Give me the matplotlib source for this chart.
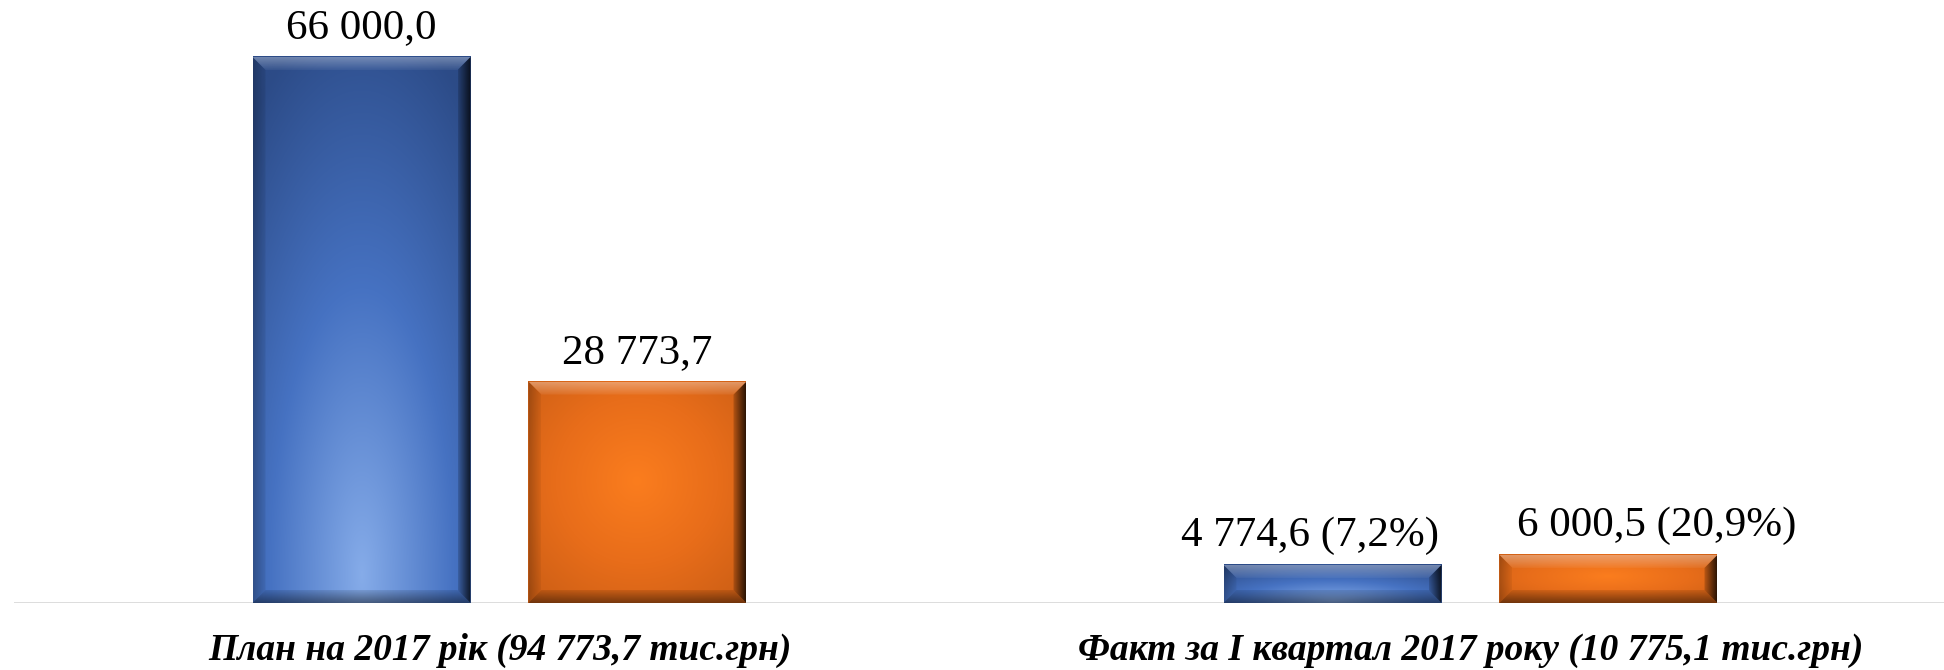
import numpy as np
import matplotlib.pyplot as plt
from matplotlib.colors import to_rgb
from matplotlib.patches import Polygon
from matplotlib.transforms import blended_transform_factory

categories = ["План на 2017 рік (94 773,7 тис.грн)",
              "Факт за I квартал 2017 року (10 775,1 тис.грн)"]
# bar heights as drawn in the picture
blue_vals = [66000.0, 4600.0]
orange_vals = [26760.0, 5810.0]
# data labels as printed
blue_labels = ["66 000,0", "4 774,6 (7,2%)"]
orange_labels = ["28 773,7", "6 000,5 (20,9%)"]

BLUE = ("#86ace9", "#4672c2", "#2c4b87")      # light centre, mid, dark edge
ORANGE = ("#fb7d1e", "#e86d1a", "#c95d15")


def fill_grad(ax, x0, x1, y0, y1, cols, cx, cy, rx, ry):
    u = np.linspace(0, 1, 120)
    v = np.linspace(0, 1, 240)
    U, V = np.meshgrid(u, v)
    r = np.clip(np.sqrt(((U - cx) / rx) ** 2 + ((V - cy) / ry) ** 2), 0, 1)
    c = [np.array(to_rgb(k)) for k in cols]
    img = np.empty(r.shape + (3,))
    for i in range(3):
        img[..., i] = np.interp(r, [0, 0.5, 1], [c[0][i], c[1][i], c[2][i]])
    ax.imshow(img, extent=(x0, x1, y0, y1), origin="lower", aspect="auto",
              interpolation="bilinear", zorder=2)


def side_grad(ax, poly, x0, x1, y0, y1, a0, a1, horizontal=True, color="black"):
    n = 64
    g = np.linspace(a0, a1, n)
    rgba = np.zeros((n, n, 4))
    rgba[..., :3] = to_rgb(color)
    rgba[..., 3] = g[None, :] if horizontal else g[:, None]
    im = ax.imshow(rgba, extent=(x0, x1, y0, y1), origin="lower", aspect="auto",
                   interpolation="bilinear", zorder=3)
    p = Polygon(poly, closed=True, facecolor="none", edgecolor="none",
                transform=ax.transData)
    ax.add_patch(p)
    im.set_clip_path(p)


def bevel_bar(ax, rect, colors, kind, sx, sy):
    x0, y0 = rect.get_x(), rect.get_y()
    x1, y1 = x0 + rect.get_width(), y0 + rect.get_height()
    if kind == "blue":
        fill_grad(ax, x0, x1, y0, y1, colors, 0.5, 0.05, 0.85, 1.05)
    else:
        fill_grad(ax, x0, x1, y0, y1, colors, 0.5, 0.55, 0.75, 0.75)
    bx, by = 13 * sx, 13 * sy
    # top (light)
    top = [(x0, y1), (x1, y1), (x1 - bx, y1 - by), (x0 + bx, y1 - by)]
    side_grad(ax, top, x0, x1, y1 - by, y1, 0.05, 0.35, horizontal=False, color="white")
    # right (dark)
    right = [(x1, y1), (x1, y0), (x1 - bx, y0 + by), (x1 - bx, y1 - by)]
    side_grad(ax, right, x1 - bx, x1, y0, y1, 0.15, 0.8)
    # bottom (dark)
    bottom = [(x0, y0), (x1, y0), (x1 - bx, y0 + by), (x0 + bx, y0 + by)]
    side_grad(ax, bottom, x0, x1, y0, y0 + by, 0.45, 0.1, horizontal=False)
    # left (slightly dark)
    left = [(x0, y0), (x0, y1), (x0 + bx, y1 - by), (x0 + bx, y0 + by)]
    side_grad(ax, left, x0, x0 + bx, y0, y1, 0.25, 0.05)


def main():
    plt.rcParams["font.family"] = ["Liberation Serif", "DejaVu Serif"]
    fig = plt.figure(figsize=(19.44, 6.70), dpi=100)
    ax = fig.add_axes([14 / 1944, 67 / 670, 1942 / 1944, 603 / 670])

    x = np.arange(len(categories))
    off, w = 0.1421, 0.2245
    ymax = 66000 * 603 / 546
    ax.set_xlim(-0.5, 1.5)
    ax.set_ylim(0, ymax)

    b1 = ax.bar(x - off, blue_vals, w, color="none", zorder=1)
    b2 = ax.bar(x + off, orange_vals, w, color="none", zorder=1)

    p0 = ax.transData.transform((0, 0))
    p1 = ax.transData.transform((1, 10000))
    sx = 1 / (p1[0] - p0[0])
    sy = 10000 / (p1[1] - p0[1])

    for r in b1:
        bevel_bar(ax, r, BLUE, "blue", sx, sy)
    for r in b2:
        bevel_bar(ax, r, ORANGE, "orange", sx, sy)

    # label shifts (points) for the lower group, as in the original
    shifts = [0, -16, 0, 35]
    for r, lab, dx in zip(list(b1) + list(b2), blue_labels + orange_labels,
                          [shifts[0], shifts[1], shifts[2], shifts[3]]):
        ax.annotate(lab, (r.get_x() + r.get_width() / 2, r.get_height()),
                    xytext=(dx, 13.5), textcoords="offset points",
                    ha="center", va="baseline", fontsize=31, color="black")

    ax.axhline(0, color="#d9d9d9", lw=2, zorder=0)
    tr = blended_transform_factory(ax.transData, fig.transFigure)
    for xi, cat in zip(x, categories):
        ax.text(xi, 10 / 670, cat, transform=tr, ha="center", va="baseline",
                fontsize=27, fontweight="bold", fontstyle="italic")

    ax.set_xlim(-0.5, 1.5)
    ax.set_ylim(0, ymax)
    ax.axis("off")
    fig.savefig("out.png", dpi=100)


if __name__ == '__main__':
    main()
